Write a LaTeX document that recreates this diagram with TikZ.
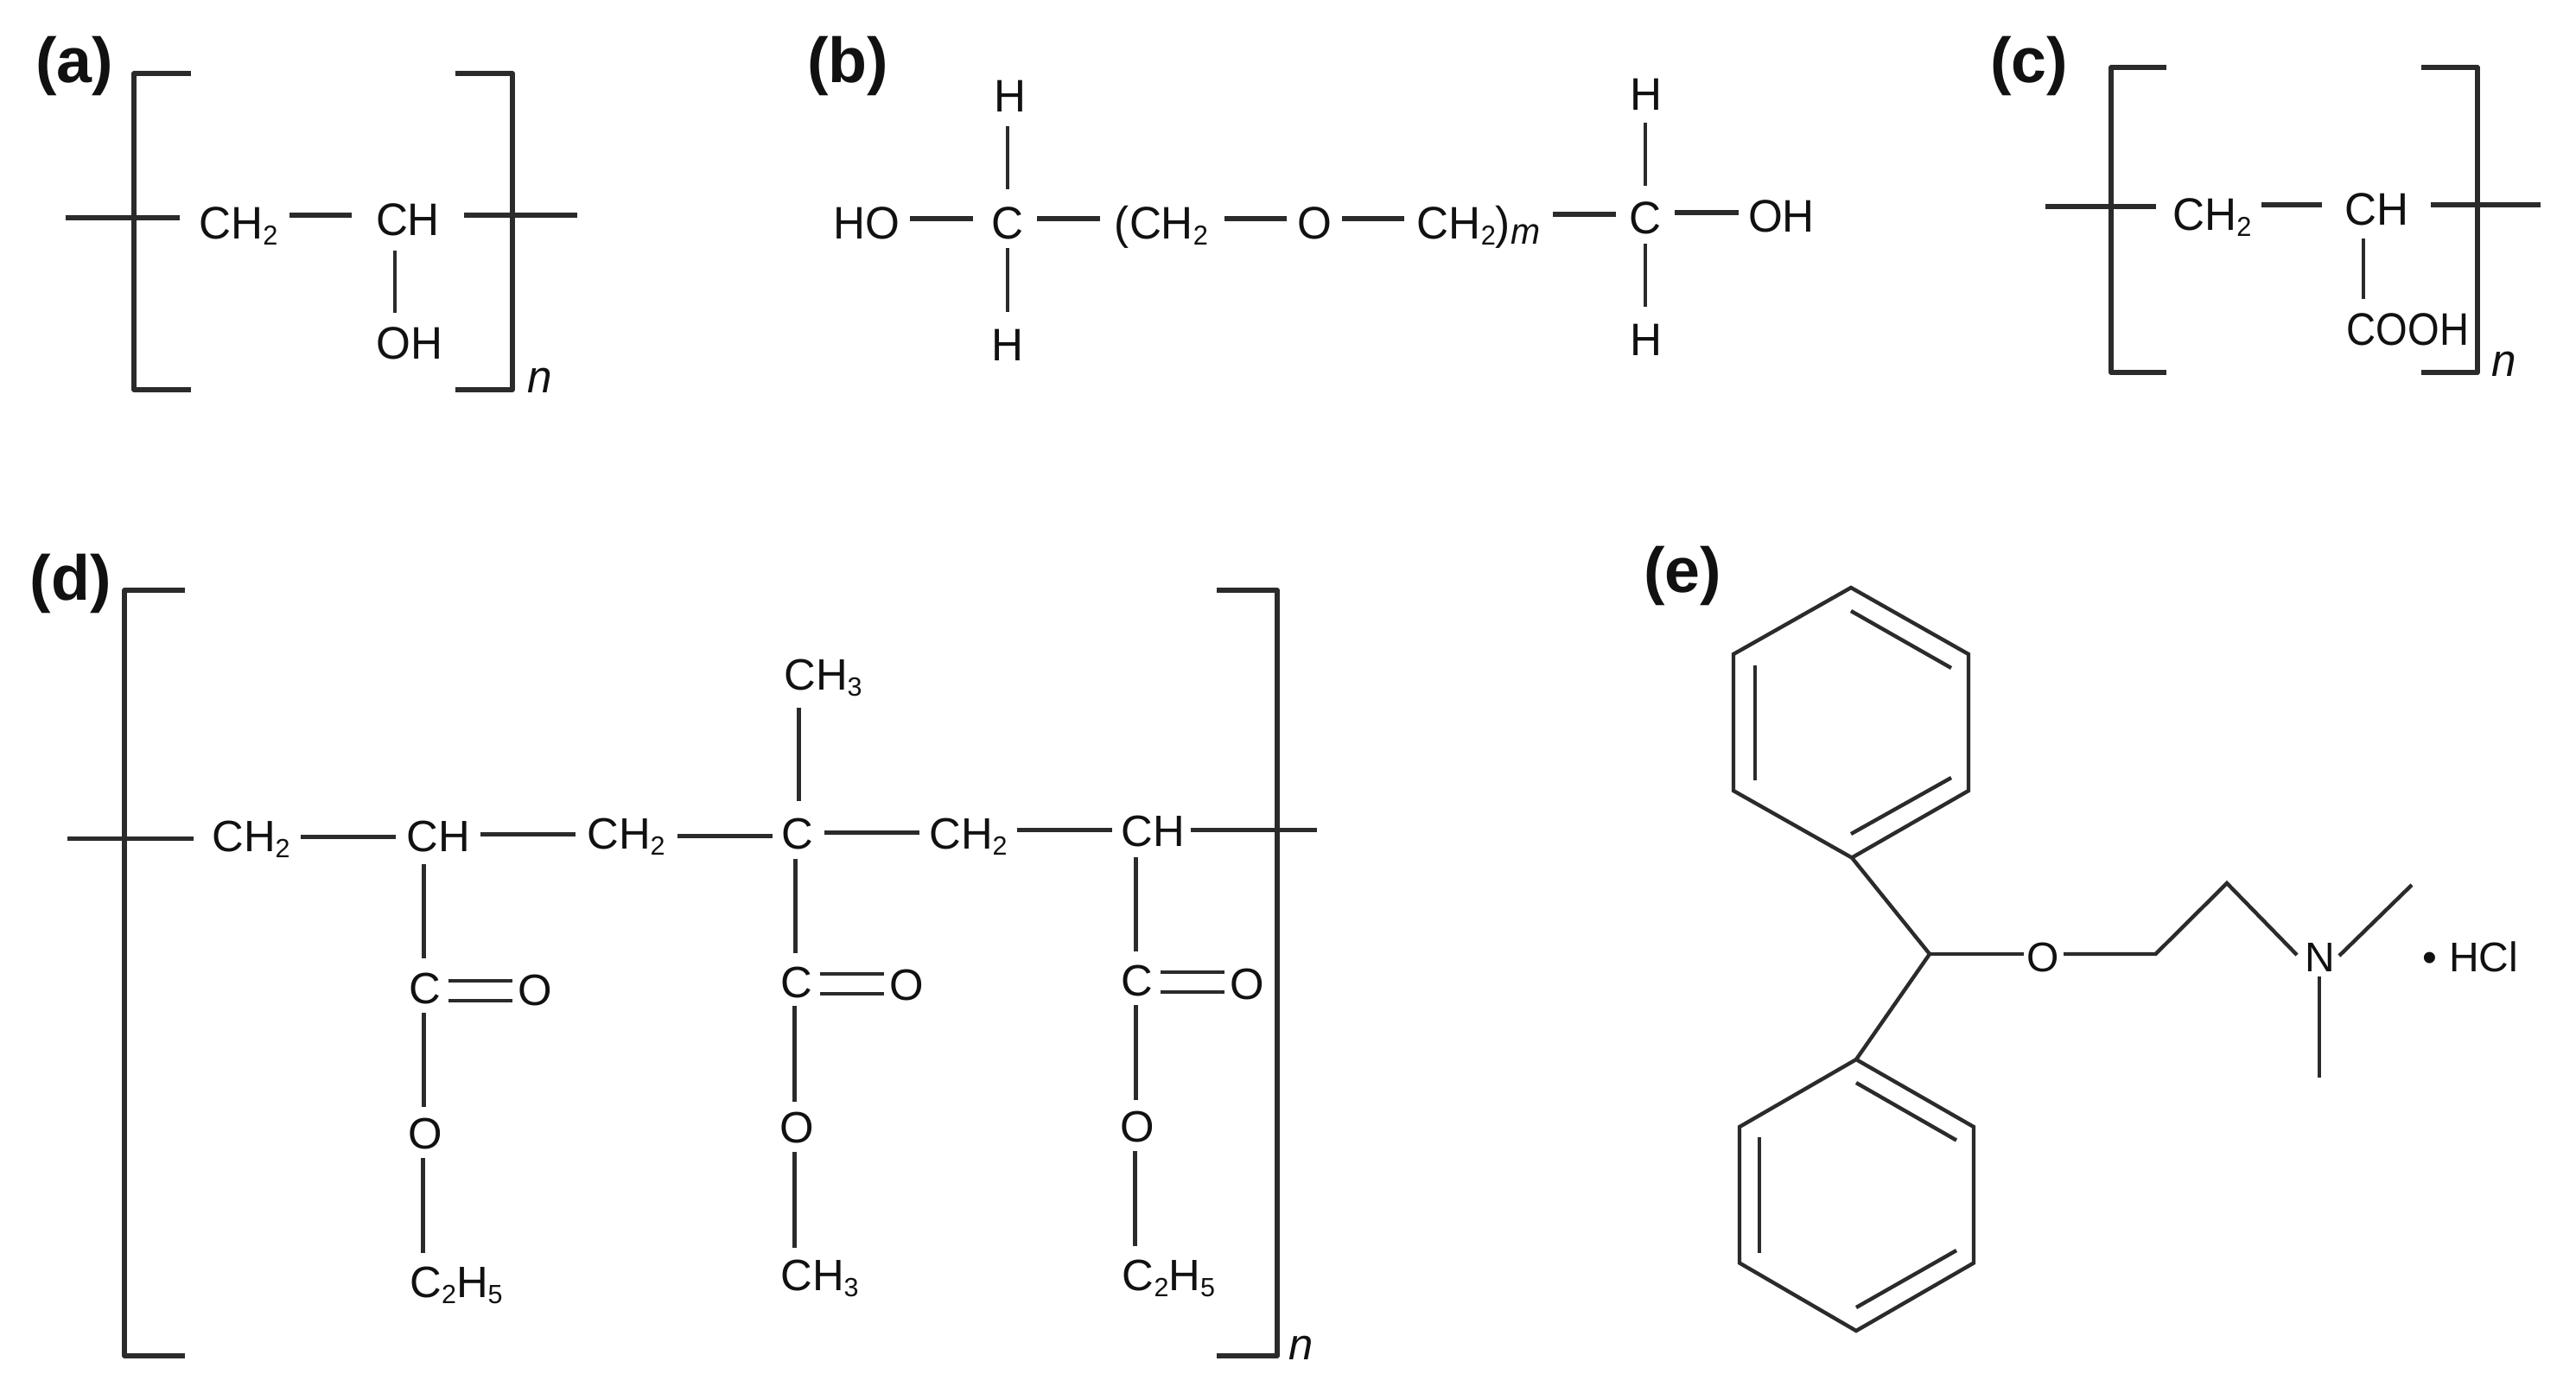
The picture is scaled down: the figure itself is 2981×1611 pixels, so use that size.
\documentclass[tikz,border=0pt]{standalone}
\usepackage{fontspec}
\usetikzlibrary{calc}
\setmainfont{Liberation Sans}
\newfontfamily\narrowsans[FakeStretch=0.97]{Liberation Sans}
\newcommand\sbs[1]{\raisebox{-0.15em}{\scalebox{0.6}{#1}}}
\definecolor{ink}{HTML}{2B2B2B}
\definecolor{txt}{HTML}{111111}
\tikzset{
  atom/.style={anchor=base,inner sep=0pt,outer sep=0pt,text height=9.25pt,text depth=0pt,text=txt},
  ta/.style={atom,font=\narrowsans\fontsize{13.2}{15}\selectfont},
  td/.style={atom,font=\fontsize{12.7}{14}\selectfont},
  te/.style={atom,font=\fontsize{12}{14}\selectfont},
  tag/.style={anchor=base west,inner sep=0pt,outer sep=0pt,text=txt,font=\bfseries\fontsize{18.4}{20}\selectfont},
  brk/.style={draw=ink,line width=1.4pt,line join=round},
  hb/.style={draw=ink,line width=1.5pt},
  vb/.style={draw=ink,line width=1.2pt},
  db/.style={draw=ink,line width=1.25pt},
  thin bond/.style={draw=ink,line width=0.95pt},
  ring/.style={draw=ink,line width=1.1pt,line join=miter},
}
\begin{document}
\begin{tikzpicture}[x=0.25pt,y=-0.25pt]
\useasboundingbox (0,0) rectangle (2981,1611);
% ---------- (a)
\node[tag] (taga) at (41,95) {(a)};
\draw[brk] (221,85) -- (155,85) -- (155,451) -- (221,451);
\draw[brk] (527,85) -- (593,85) -- (593,451) -- (527,451);
\node[ta] (a1) at (276,276) {CH\sbs{2}};
\node[ta] (a2) at (472,272) {CH};
\node[ta] (a3) at (474,415) {OH};
\node[ta] (an) at (624.5,454) {\textit{n}};
\coordinate (aL) at (76,252);
\coordinate (aR) at (668,249);
\draw[hb] (aL) -- ($(a1)+(-68,-5.5)$);
\draw[hb] ($(a1)+(59,-8.5)$) -- ($(a2)+(-65,-4.5)$);
\draw[hb] ($(a2)+(65,-4.5)$) -- (aR);
\draw[vb] ($(a2)+(-15,36.5)$) -- ($(a3)+(-17,-34.5)$);
% ---------- (b)
\node[tag] (tagb) at (934,95) {(b)};
\node[ta] (b1) at (1003,276) {HO};
\node[ta] (b2) at (1165.5,276) {C};
\node[ta] (b3) at (1344,276) {(CH\sbs{2}};
\node[ta] (b4) at (1521.5,276) {O};
\node[ta] (b5) at (1711,276) {CH\sbs{2})\raisebox{-0.12em}{\scalebox{0.8}{\textit{m}}}};
\node[ta] (b6) at (1903.5,270) {C};
\node[ta] (b7) at (2061.5,268) {OH};
\node[ta] (b8) at (1168.5,129) {H};
\node[ta] (b9) at (1165.5,417) {H};
\node[ta] (b10) at (1904.5,127) {H};
\node[ta] (b11) at (1904.5,411) {H};
\draw[hb] ($(b1)+(50,-4.5)$) -- ($(b2)+(-39.5,-4.5)$);
\draw[hb] ($(b2)+(34.5,-4.5)$) -- ($(b3)+(-71,-4.5)$);
\draw[hb] ($(b3)+(73,-4.5)$) -- ($(b4)+(-32.5,-4.5)$);
\draw[hb] ($(b4)+(31.5,-4.5)$) -- ($(b5)+(-86,-4.5)$);
\draw[hb] ($(b5)+(86,-9.5)$) -- ($(b6)+(-33.5,-3.5)$);
\draw[hb] ($(b6)+(34.5,-5.5)$) -- ($(b7)+(-49.5,-3.5)$);
\draw[vb] ($(b8)+(-2.5,35.5)$) -- ($(b2)+(0.5,-38.5)$);
\draw[vb] ($(b2)+(0.5,29.5)$) -- ($(b9)+(0.5,-37.5)$);
\draw[vb] ($(b10)+(-0.5,33.5)$) -- ($(b6)+(0.5,-36.5)$);
\draw[vb] ($(b6)+(0.5,30.5)$) -- ($(b11)+(-0.5,-37.5)$);
% ---------- (c)
\node[tag] (tagc) at (2303,95) {(c)};
\draw[brk] (2507,78) -- (2443,78) -- (2443,431) -- (2507,431);
\draw[brk] (2802,78) -- (2867,78) -- (2867,431) -- (2802,431);
\node[ta] (c1) at (2560,266) {CH\sbs{2}};
\node[ta] (c2) at (2750,260) {CH};
\node[ta] (c3) at (2786.5,399) {\scalebox{0.92}[1]{COOH}};
\node[ta] (cn) at (2897.5,435) {\textit{n}};
\coordinate (cL) at (2367,239);
\coordinate (cR) at (2940,237);
\draw[hb] (cL) -- ($(c1)+(-65,-8.5)$);
\draw[hb] ($(c1)+(57,-10.5)$) -- ($(c2)+(-63,-4.5)$);
\draw[hb] ($(c2)+(63,-4.5)$) -- (cR);
\draw[vb] ($(c2)+(-15,34.5)$) -- ($(c3)+(-51.5,-34.5)$);
% ---------- (d)
\node[tag] (tagd) at (35,694) {(d)};
\draw[brk] (214,683) -- (144,683) -- (144,1569) -- (214,1569);
\draw[brk] (1408,683) -- (1478,683) -- (1478,1569) -- (1408,1569);
\node[td] (d1) at (290.5,985) {CH\sbs{2}};
\node[td] (d2) at (507.5,985) {CH};
\node[td] (d3) at (724.5,982) {CH\sbs{2}};
\node[td] (d4) at (923,982) {C};
\node[td] (d5) at (1120.5,982) {CH\sbs{2}};
\node[td] (d6) at (1334,979) {CH};
\node[td] (d7) at (491.5,1161) {C};
\node[td] (d8) at (619.5,1163) {O};
\node[td] (d9) at (492,1329) {O};
\node[td] (d10) at (528,1501) {C\sbs{2}H\sbs{5}};
\node[td] (d11) at (952.5,798) {CH\sbs{3}};
\node[td] (d12) at (922,1154) {C};
\node[td] (d13) at (1049,1157) {O};
\node[td] (d14) at (922,1322) {O};
\node[td] (d15) at (948.5,1493) {CH\sbs{3}};
\node[td] (d16) at (1316,1152) {C};
\node[td] (d17) at (1443,1156) {O};
\node[td] (d18) at (1316.5,1321) {O};
\node[td] (d19) at (1352.5,1493) {C\sbs{2}H\sbs{5}};
\node[td] (dn) at (1506,1573) {\textit{n}};
\coordinate (dL) at (78,970);
\coordinate (dR) at (1524,960);
\draw[db] (dL) -- ($(d1)+(-66.5,3.5)$);
\draw[db] ($(d1)+(57.5,1.5)$) -- ($(d2)+(-49.5,1.5)$);
\draw[db] ($(d2)+(48.5,-1.5)$) -- ($(d3)+(-58.5,1.5)$);
\draw[db] ($(d3)+(59.5,3.5)$) -- ($(d4)+(-29,3.5)$);
\draw[db] ($(d4)+(31,-0.5)$) -- ($(d5)+(-56.5,-0.5)$);
\draw[db] ($(d5)+(56.5,-3.5)$) -- ($(d6)+(-47,-0.5)$);
\draw[db] ($(d6)+(44,-0.5)$) -- (dR);
\draw[db] ($(d2)+(-17.5,33.5)$) -- ($(d7)+(-1.5,-33.5)$);
\draw[thin bond] ($(d7)+(27.5,-7.5)$) -- ($(d8)+(-26.5,-9.5)$);
\draw[thin bond] ($(d7)+(27.5,15.5)$) -- ($(d8)+(-26.5,13.5)$);
\draw[db] ($(d7)+(-1.5,29.5)$) -- ($(d9)+(-2,-29.5)$);
\draw[db] ($(d9)+(-3,29.5)$) -- ($(d10)+(-39,-32.5)$);
\draw[db] ($(d11)+(-28.5,39.5)$) -- ($(d4)+(1,-36.5)$);
\draw[db] ($(d4)+(-3,30.5)$) -- ($(d12)+(-2,-32.5)$);
\draw[thin bond] ($(d12)+(27,-8.5)$) -- ($(d13)+(-26,-11.5)$);
\draw[thin bond] ($(d12)+(27,14.5)$) -- ($(d13)+(-26,11.5)$);
\draw[db] ($(d12)+(-3,28.5)$) -- ($(d14)+(-3,-28.5)$);
\draw[db] ($(d14)+(-3,29.5)$) -- ($(d15)+(-29.5,-30.5)$);
\draw[db] ($(d6)+(-20,31.5)$) -- ($(d16)+(-2,-32.5)$);
\draw[thin bond] ($(d16)+(27,-8.5)$) -- ($(d17)+(-26,-12.5)$);
\draw[thin bond] ($(d16)+(27,14.5)$) -- ($(d17)+(-26,10.5)$);
\draw[db] ($(d16)+(-2,29.5)$) -- ($(d18)+(-2.5,-29.5)$);
\draw[db] ($(d18)+(-3.5,29.5)$) -- ($(d19)+(-39.5,-32.5)$);
% ---------- (e)
\node[tag] (tage) at (1902,685) {(e)};
\draw[ring] (2142,680) -- (2278,757) -- (2278,915) -- (2143,992.5) -- (2006,915) -- (2006,757) -- cycle;
\draw[ring] (2142,707) -- (2258,773);
\draw[ring] (2031,770) -- (2031,903);
\draw[ring] (2142,965) -- (2258,900);
\draw[ring] (2148,1226) -- (2284,1304) -- (2284,1461.5) -- (2148,1540) -- (2013,1461.5) -- (2013,1304) -- cycle;
\draw[ring] (2148,1253) -- (2264,1319.5);
\draw[ring] (2036,1316) -- (2036,1450);
\draw[ring] (2148,1513) -- (2264,1447);
\coordinate (eC) at (2233,1104);
\coordinate (r1) at (2143,992.5);
\coordinate (r2) at (2148,1226);
\coordinate (e4) at (2494.5,1104);
\coordinate (e5) at (2577,1022);
\coordinate (me1) at (2791,1024);
\coordinate (me2) at (2684,1247);
\node[te] (e1) at (2364.5,1124) {O};
\node[te] (e2) at (2685,1124) {N};
\node[te] (e3) at (2859,1124) {• HCl};
\draw[ring] (r1) -- (eC) -- (r2);
\draw[ring] (eC) -- ($(e1)+(-22.5,-1.5)$);
\draw[ring] ($(e1)+(23.5,-1.5)$) -- (e4) -- (e5) -- ($(e2)+(-27,-0.5)$);
\draw[ring] ($(e2)+(22,0.5)$) -- (me1);
\draw[ring] ($(e2)+(-1,24.5)$) -- (me2);
\end{tikzpicture}
\end{document}
